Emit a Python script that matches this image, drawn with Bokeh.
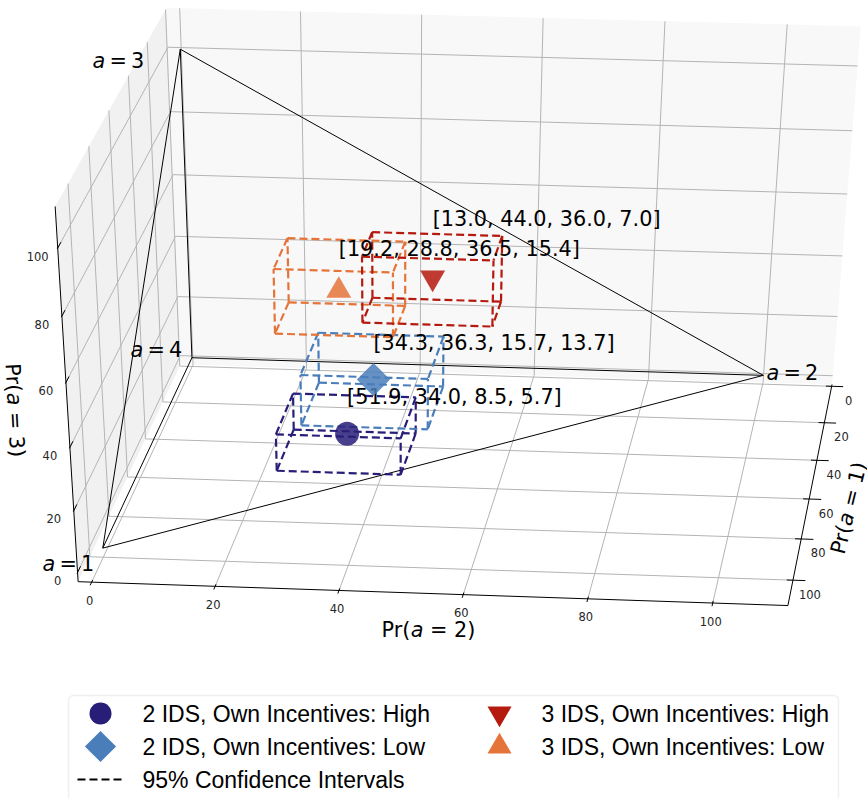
import numpy as np
from bokeh.plotting import figure
from bokeh.models import BoxAnnotation
from bokeh.core.properties import value
from bokeh.embed import file_html
from bokeh.resources import INLINE

# ---- data ---------------------------------------------------------------
series_names = ["2 IDS, Own Incentives: High", "2 IDS, Own Incentives: Low",
                "3 IDS, Own Incentives: Low", "3 IDS, Own Incentives: High"]
pr_a1 = [51.9, 34.3, 19.2, 13.0]
pr_a2 = [34.0, 36.3, 28.8, 44.0]
pr_a3 = [8.5, 15.7, 36.5, 36.0]
pr_a4 = [5.7, 13.7, 15.4, 7.0]
ci_a1_low = [42.0, 24.0, 10.5, 6.5]
ci_a1_high = [63.5, 47.0, 28.0, 20.5]
ci_a2_low = [23.5, 25.5, 18.7, 32.6]
ci_a2_high = [44.2, 46.8, 38.7, 54.7]
ci_a3_low = [3.0, 7.7, 26.0, 26.0]
ci_a3_high = [15.0, 24.3, 47.0, 47.5]
ticks = [0, 20, 40, 60, 80, 100]
legend_ci = "95% Confidence Intervals"

# ---- style --------------------------------------------------------------
colors = ["#281E78", "#4A7EBB", "#E57439", "#B51A0F"]
markers = ["circle", "square", "triangle", "inverted_triangle"]
marker_angle = [0, np.pi / 4, 0, 0]
marker_size = [24, 23.5, 25, 25]
marker_nudge_x = [-1, -1, -2, -2]
marker_nudge_y = [0, 0, 3, -3]
label_lift = [37, 37, 39, 62]
DV = value("DejaVu Sans")
LS = value("Liberation Sans")
FS = "20.8px"
DASH = "8 4"

# ---- camera: the 3D view of the reference, solved from known axis points --
XLIM = (-2.2, 112.0)
YLIM = (-1.0, 112.0)
ZLIM = (-3.0, 112.0)
camera_world = [(0, 0, 0), (100, 0, 0), (0, 0, 100), (0, 100, 0),
                (0, 112, -3), (100, 112, -3), (112, 112, -3), (112, 0, -3),
                (112, 100, -3), (-2.2, 112, 100), (-2.2, 112, 20),
                (-2.2, -1, 112), (112, -1, 112), (-2.2, 112, 112)]
camera_image = [(192, 357), (762, 376), (179, 50), (104, 547),
                (90, 580), (711, 603), (788, 605), (832, 385),
                (793, 579), (57, 248), (72, 513),
                (166, 6), (860, 26), (56, 205)]


def solve_camera(world, image):
    rows = []
    for (X, Y, Z), (u, v) in zip(world, image):
        X, Y, Z, u, v = X / 100, Y / 100, Z / 100, u / 500, v / 500
        rows.append([X, Y, Z, 1, 0, 0, 0, 0, -u * X, -u * Y, -u * Z, -u])
        rows.append([0, 0, 0, 0, X, Y, Z, 1, -v * X, -v * Y, -v * Z, -v])
    return np.linalg.svd(np.array(rows))[2][-1].reshape(3, 4)


CAM = solve_camera(camera_world, camera_image)


def proj(x, y, z):
    h = CAM @ np.array([x / 100, y / 100, z / 100, 1.0])
    return 500 * h[0] / h[2], 500 * h[1] / h[2]


p = figure(width=867, height=798, x_range=(0, 867), y_range=(798, 0),
           toolbar_location=None, output_backend="svg", min_border=0,
           x_axis_location=None, y_axis_location=None)
p.grid.visible = False
p.outline_line_color = None
p.background_fill_color = "white"
p.border_fill_color = "white"


def poly(pts, color):
    q = [proj(*t) for t in pts]
    p.patch([a for a, _ in q], [b for _, b in q], fill_color=color, line_color=None)


def segs(pairs, color, width, dash="solid"):
    xs, ys = [], []
    for a, b in pairs:
        pa, pb = proj(*a), proj(*b)
        xs.append([pa[0], pb[0]])
        ys.append([pa[1], pb[1]])
    p.multi_line(xs, ys, line_color=color, line_width=width, line_dash=dash)


x0, x1 = XLIM
y0, y1 = YLIM
z0, z1 = ZLIM
poly([(x0, y0, z0), (x1, y0, z0), (x1, y0, z1), (x0, y0, z1)], "#F8F8F8")
poly([(x0, y0, z0), (x0, y1, z0), (x0, y1, z1), (x0, y0, z1)], "#F1F1F1")

grid = []
for t in ticks:
    grid += [((t, y0, z0), (t, y0, z1)), ((t, y0, z0), (t, y1, z0))]   # x lines
    grid += [((x0, t, z0), (x0, t, z1)), ((x0, t, z0), (x1, t, z0))]   # y lines
    grid += [((x0, y0, t), (x1, y0, t)), ((x0, y0, t), (x0, y1, t))]   # z lines
segs(grid, "#B4B4B4", 1)

# axis lines and ticks
segs([((x0, y1, z0), (x1, y1, z0)), ((x1, y1, z0), (x1, y0, z0)),
      ((x0, y1, z1), (x0, y1, z0))], "black", 1)
tick_marks = []
for t in ticks:
    tick_marks.append(((t, y1 - 1, z0), (t, y1 + 1.5, z0)))
    tick_marks.append(((x1 - 1, t, z0), (x1 + 2, t, z0)))
    tick_marks.append(((x0, y1 - 3, t), (x0, y1 + 0.5, t)))
segs(tick_marks, "black", 1)

for t in ticks:
    u, v = proj(t, y1, z0)
    p.text([u - 2], [v + 18], text=[str(t)], text_font=DV, text_font_size="11.5px",
           text_color="#262626", text_align="center", text_baseline="middle")
    u, v = proj(x1, t, z0)
    p.text([u + 17], [v + 14], text=[str(t)], text_font=DV, text_font_size="11.5px",
           text_color="#262626", text_align="center", text_baseline="middle")
    u, v = proj(x0, y1, t)
    p.text([u - 20], [v + 8], text=[str(t)], text_font=DV, text_font_size="11.5px",
           text_color="#262626", text_align="center", text_baseline="middle")

# simplex
V = {1: (0, 100, 0), 2: (100, 0, 0), 3: (0, 0, 100), 4: (0, 0, 0)}
segs([(V[1], V[2]), (V[2], V[3]), (V[3], V[1]), (V[4], V[1]), (V[4], V[2]), (V[4], V[3])],
     "black", 1)

# confidence boxes
for i in range(4):
    xa, xb = ci_a2_low[i], ci_a2_high[i]
    ya, yb = ci_a1_low[i], ci_a1_high[i]
    za, zb = ci_a3_low[i], ci_a3_high[i]
    edges = []
    for yy in (ya, yb):
        for zz in (za, zb):
            edges.append(((xa, yy, zz), (xb, yy, zz)))
    for xx in (xa, xb):
        for zz in (za, zb):
            edges.append(((xx, ya, zz), (xx, yb, zz)))
    for xx in (xa, xb):
        for yy in (ya, yb):
            edges.append(((xx, yy, za), (xx, yy, zb)))
    segs(edges, colors[i], 2.2, DASH)

# point estimates and their labels
for i in range(4):
    u, v = proj(pr_a2[i], pr_a1[i], pr_a3[i])
    u += marker_nudge_x[i]
    p.scatter([u], [v + marker_nudge_y[i]], marker=markers[i], size=marker_size[i],
              angle=marker_angle[i], fill_color=colors[i], fill_alpha=0.85, line_color=None)
    label = "[%.1f, %.1f, %.1f, %.1f]" % (pr_a1[i], pr_a2[i], pr_a3[i], pr_a4[i])
    p.text([u], [v - label_lift[i]], text=[label], text_font=DV, text_font_size=FS,
           text_color="black", text_align="left", text_baseline="middle")

# math-style labels, run by run
ADV = {"Pr(": 1.404, "a": 0.613}


def math_label(x, y, head, tail, gap, angle=0.0):
    cx, sy = np.cos(angle), -np.sin(angle)
    pos = 0.0
    size = 20.8
    if head:
        p.text([x], [y], text=[head], angle=angle, text_font=DV, text_font_size=FS,
               text_color="black", text_align="left", text_baseline="alphabetic")
        pos += ADV[head] * size
    p.text([x + pos * cx], [y + pos * sy], text=["a"], angle=angle, text_font=DV,
           text_font_size=FS, text_font_style="italic", text_color="black",
           text_align="left", text_baseline="alphabetic")
    pos += (ADV["a"] + gap) * size
    p.text([x + pos * cx], [y + pos * sy], text=[tail], angle=angle, text_font=DV,
           text_font_size=FS, text_color="black", text_align="left",
           text_baseline="alphabetic")


TH = "\u2009"
math_label(92, 60, "", f"={TH}3", 0.2)
math_label(130, 349, "", f"={TH}4", 0.2)
math_label(42, 563, "", f"={TH}1", 0.2)
math_label(766, 372, "", f"={TH}2", 0.2)
math_label(381, 629, "Pr(", "= 2)", 0.318)
math_label(12, 363, "Pr(", "= 3)", 0.318, np.deg2rad(-87))
math_label(837, 553, "Pr(", "= 1)", 0.318, np.deg2rad(76))

# legend
p.add_layout(BoxAnnotation(left=68, right=838, top=695, bottom=815, fill_color="white",
                           fill_alpha=1, line_color="#CCCCCC", line_width=1.5, border_radius=5,
                           level="underlay"))
legend_slots = [(100, 142, 713), (100, 142, 746), (499, 541, 746), (499, 541, 713)]
legend_marker_size = [22, 22, 24, 24]
for i, (mx, tx, ly) in enumerate(legend_slots):
    p.scatter([mx], [ly], marker=markers[i], size=legend_marker_size[i], angle=marker_angle[i],
              fill_color=colors[i], line_color=None)
    p.text([tx], [ly], text=[series_names[i]], text_font=LS, text_font_size="23px",
           text_color="black", text_align="left", text_baseline="middle")
p.line([77, 122], [779, 779], line_color="black", line_width=2, line_dash=DASH)
p.text([142], [779], text=[legend_ci], text_font=LS, text_font_size="23px",
       text_color="black", text_align="left", text_baseline="middle")

open("out.html", "w").write(file_html(p, INLINE))
